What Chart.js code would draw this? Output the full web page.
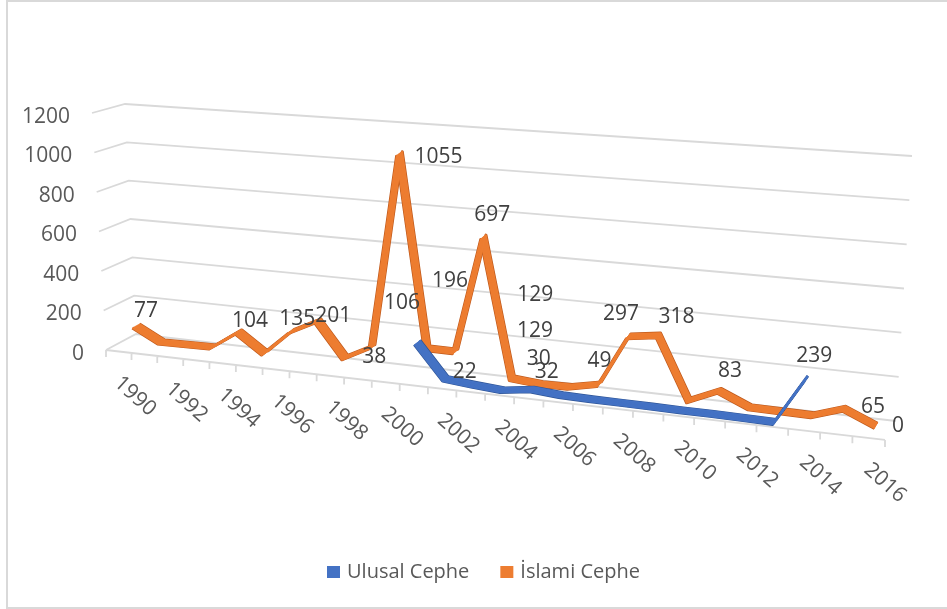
<!DOCTYPE html>
<html lang="tr">
<head>
<meta charset="UTF-8">
<title>Ulusal Cephe / İslami Cephe</title>
<script src="https://cdn.jsdelivr.net/npm/chart.js@4.4.1/dist/chart.umd.min.js"></script>
<style>
  html, body { margin: 0; padding: 0; background: #fff; }
  #chart { display: block; }
</style>
</head>
<body>
<canvas id="chart" width="947" height="609"></canvas>
<script>

// ---- data ----
var years = ['1990', '1991', '1992', '1993', '1994', '1995', '1996', '1997', '1998',
  '1999', '2000', '2001', '2002', '2003', '2004', '2005', '2006', '2007', '2008',
  '2009', '2010', '2011', '2012', '2013', '2014', '2015', '2016'];

var ulusalCephe = [null, null, null, null, null, null, null, null, null, null, null,
  196, 35, 22, 12, 32, 21, 18, 17, 16, 14, 14, 12, 10, 239, null, null];

var islamiCephe = [77, 13, 15, 17, 104, 17, 135, 201, 38, 106, 1055, 129, 129, 697,
  30, 18, 20, 49, 297, 318, 20, 83, 20, 18, 16, 65, 0];

var valueAxis = { min: 0, max: 1200, step: 200 };

// ---- look of the excel 3d line chart ----
var FONT = '"Open Sans", "Noto Sans", sans-serif';
var FONT_SIZE = 21;
var PERSPECTIVE = 0.136;       // categories get wider to the right
var FLOOR_SLOPE = 0.1155;      // front edge of the floor drops to the right
var DEPTH_DX = 29, DEPTH_DX_SHRINK = 0.0218;
var DEPTH_DY = -16, DEPTH_DY_GROW = -0.0059;
var VALUE_STRETCH = 1.045;
var RIBBON = 0.25;             // depth of one ribbon

// wall corners for the 0 gridline and the top gridline
var wallFrontLeft = { x0: 106, x1: 92 };
var wallBackLeft = { x0: 136, y0: 334, x1: 125, y1: 104 };
var wallRight = { x0: 896, y0: 421, x1: 912, y1: 156 };

// value labels shown, nudge of the label centre from its point
var labelNudge = {
  'islami 1990': [10, -16], 'islami 1994': [11.5, -12.5], 'islami 1996': [6, -14],
  'islami 1997': [15.5, -6], 'islami 1998': [29.5, -2], 'islami 1999': [30, -45.5],
  'islami 2000': [39, 2], 'islami 2001': [108, -55], 'islami 2002': [80, -21.5],
  'islami 2003': [9, -24], 'islami 2004': [27, -21], 'islami 2007': [0.5, -25],
  'islami 2008': [-7.5, -24], 'islami 2009': [18, -20], 'islami 2011': [11, -21.5],
  'islami 2015': [29, -3], 'islami 2016': [22, -1.5],
  'ulusal 2001': [33, -62.5], 'ulusal 2003': [-9, -14], 'ulusal 2005': [15, -19],
  'ulusal 2014': [8, -24]
};

// category scale with perspective spacing
var BaseCategory = Chart.CategoryScale || Chart.registry.getScale('category');
class DepthCategoryScale extends BaseCategory {
  getPixelForDecimal(decimal) {
    var warped = decimal / (1 + PERSPECTIVE * (1 - decimal));
    return super.getPixelForDecimal(warped);
  }
}
DepthCategoryScale.id = 'depthCategory';
DepthCategoryScale.defaults = BaseCategory.defaults;
Chart.register(DepthCategoryScale);

function depthMatrix(area, t) {
  var a = 1 - DEPTH_DX_SHRINK * t;
  var b = FLOOR_SLOPE + DEPTH_DY_GROW * t;
  var e = t * (DEPTH_DX + DEPTH_DX_SHRINK * area.left);
  var f = area.bottom - b * area.left + DEPTH_DY * t - VALUE_STRETCH * area.bottom;
  return [a, b, 0, VALUE_STRETCH, e, f];
}

function project(area, x, y, t) {
  var m = depthMatrix(area, t);
  return [m[0] * x + m[4], m[1] * x + m[3] * y + m[5]];
}

function strokeEdge(chart, meta, t, color) {
  var ctx = chart.ctx, area = chart.chartArea;
  ctx.save();
  ctx.strokeStyle = color;
  ctx.lineWidth = 3;
  ctx.lineJoin = 'round';
  ctx.beginPath();
  var open = false;
  meta.data.forEach(function(pt) {
    if (pt.skip) { open = false; return; }
    var p = project(area, pt.x, pt.y, t);
    if (open) ctx.lineTo(p[0], p[1]); else ctx.moveTo(p[0], p[1]);
    open = true;
  });
  ctx.stroke();
  ctx.restore();
}

var depthPlugin = {
  id: 'depth3d',
  beforeDraw: function(chart) {
    var ctx = chart.ctx;
    ctx.save();
    ctx.strokeStyle = '#d9d9d9';
    ctx.lineWidth = 2;
    ctx.strokeRect(7, 1, 1000, 607);
    ctx.restore();
  },
  beforeDatasetsDraw: function(chart) {
    var ctx = chart.ctx, area = chart.chartArea;
    var xs = chart.scales.x, ys = chart.scales.y;
    ctx.save();
    ctx.font = FONT_SIZE + 'px ' + FONT;
    ctx.fillStyle = '#595959';
    ctx.strokeStyle = '#d9d9d9';
    ctx.lineWidth = 1.8;

    // gridlines on the side and back wall, value labels
    ys.ticks.forEach(function(tick) {
      var y = ys.getPixelForValue(tick.value);
      var p = (area.bottom - y) / (area.bottom - area.top);
      var fx = wallFrontLeft.x0 + (wallFrontLeft.x1 - wallFrontLeft.x0) * p;
      ctx.beginPath();
      ctx.moveTo(fx, y);
      ctx.lineTo(wallBackLeft.x0 + (wallBackLeft.x1 - wallBackLeft.x0) * p,
                 wallBackLeft.y0 + (wallBackLeft.y1 - wallBackLeft.y0) * p);
      ctx.lineTo(wallRight.x0 + (wallRight.x1 - wallRight.x0) * p,
                 wallRight.y0 + (wallRight.y1 - wallRight.y0) * p);
      ctx.stroke();
      ctx.textAlign = 'right';
      ctx.textBaseline = 'alphabetic';
      ctx.fillText(String(tick.value), fx - 22, y + 9.5);
    });

    // front edge of the floor with tick marks
    var n = years.length;
    var floorY = function(x) { return area.bottom + FLOOR_SLOPE * (x - area.left); };
    var x0 = xs.getPixelForDecimal(0), x1 = xs.getPixelForDecimal(1);
    ctx.beginPath();
    ctx.moveTo(x0, floorY(x0));
    ctx.lineTo(x1, floorY(x1));
    for (var i = 0; i <= n; i++) {
      var tx = xs.getPixelForDecimal(i / n);
      ctx.moveTo(tx, floorY(tx));
      ctx.lineTo(tx, floorY(tx) + 7);
    }
    ctx.stroke();

    // year labels, every second one
    ctx.textAlign = 'left';
    for (var j = 0; j < n; j += 2) {
      var cx = xs.getPixelForValue(j);
      ctx.save();
      ctx.translate(cx + 4.5, floorY(cx) + 22);
      ctx.rotate(42 * Math.PI / 180);
      ctx.fillText(years[j], 0, 15);
      ctx.restore();
    }
    ctx.restore();
  },
  beforeDatasetDraw: function(chart, args) {
    var ctx = chart.ctx, area = chart.chartArea;
    var ds = chart.data.datasets[args.index];
    var meta = args.meta;
    var t0 = ds.depth - RIBBON / 2, t1 = ds.depth + RIBBON / 2;
    strokeEdge(chart, meta, t1, ds.edgeColor);
    strokeEdge(chart, meta, t0, ds.edgeColor);
    var steps = 12;
    for (var k = 0; k <= steps; k++) {
      var m = depthMatrix(area, t0 + (t1 - t0) * k / steps);
      ctx.save();
      ctx.transform(m[0], m[1], m[2], m[3], m[4], m[5]);
      meta.controller.draw();
      ctx.restore();
    }
    return false;
  },
  afterDatasetsDraw: function(chart) {
    var ctx = chart.ctx, area = chart.chartArea;
    ctx.save();
    ctx.font = FONT_SIZE + 'px ' + FONT;
    ctx.textAlign = 'center';
    ctx.textBaseline = 'alphabetic';
    ctx.fillStyle = '#404040';
    chart.data.datasets.forEach(function(ds, di) {
      var meta = chart.getDatasetMeta(di);
      ds.data.forEach(function(v, i) {
        var nudge = labelNudge[ds.key + ' ' + years[i]];
        if (!nudge || v === null) return;
        var pt = meta.data[i];
        var p = project(area, pt.x, pt.y, ds.depth);
        ctx.fillText(String(v), p[0] + nudge[0], p[1] + nudge[1] + 7.5);
      });
    });

    // legend
    ctx.font = '20px ' + FONT;
    ctx.textAlign = 'left';
    var lx = 327;
    chart.data.datasets.forEach(function(ds) {
      ctx.fillStyle = ds.borderColor;
      ctx.fillRect(lx, 566, 13, 12);
      ctx.fillStyle = '#595959';
      ctx.fillText(ds.label, lx + 20, 577.5);
      lx += 20 + ctx.measureText(ds.label).width + 31;
    });
    ctx.restore();
  }
};

var area = { left: 106, top: 113, right: 885, bottom: 350 };

new Chart(document.getElementById('chart'), {
  type: 'line',
  data: {
    labels: years,
    datasets: [
      {
        label: 'Ulusal Cephe', key: 'ulusal', data: ulusalCephe,
        borderColor: '#4472C4', edgeColor: '#2F5597', depth: 0.15,
        borderWidth: 1.6, pointRadius: 0, tension: 0, clip: false,
        borderJoinStyle: 'round'
      },
      {
        label: 'İslami Cephe', key: 'islami', data: islamiCephe,
        borderColor: '#ED7D31', edgeColor: '#C05A1C', depth: 0.6,
        borderWidth: 1.6, pointRadius: 0, tension: 0, clip: false,
        borderJoinStyle: 'round'
      }
    ]
  },
  options: {
    responsive: false,
    animation: false,
    events: [],
    layout: {
      padding: { left: area.left, top: area.top, right: 947 - area.right, bottom: 609 - area.bottom }
    },
    plugins: {
      legend: { display: false },
      tooltip: { enabled: false }
    },
    scales: {
      x: { type: 'depthCategory', offset: true, display: false },
      y: {
        type: 'linear', display: false,
        min: valueAxis.min, max: valueAxis.max,
        ticks: { stepSize: valueAxis.step }
      }
    }
  },
  plugins: [depthPlugin]
});
</script>
</body>
</html>
